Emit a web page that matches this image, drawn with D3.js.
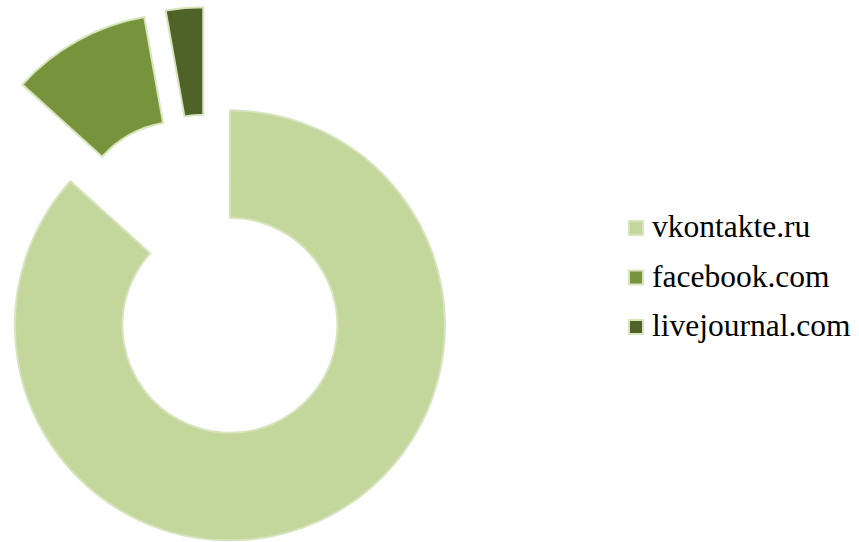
<!DOCTYPE html>
<html>
<head>
<meta charset="utf-8">
<script src="https://cdn.jsdelivr.net/npm/d3@7/dist/d3.min.js"></script>
<style>
  html, body { margin: 0; padding: 0; background: #ffffff; }
  svg { display: block; }
</style>
</head>
<body>
<svg id="chart" width="859" height="542"></svg>
<script>
const categories = ["vkontakte.ru", "facebook.com", "livejournal.com"];
const values = [86.7, 10.5, 2.8];
const colors = ["#c3d69b", "#77933c", "#4f6228"];

const svg = d3.select("#chart");
const cx = 208, cy = 276;
const outerR = 215, innerR = 107.5;
const explode = 54;

const pie = d3.pie().sort(null).value(d => d.value).startAngle(0).endAngle(2 * Math.PI);
const data = categories.map((c, i) => ({ name: c, value: values[i], color: colors[i] }));
const arcs = pie(data);
const arc = d3.arc().innerRadius(innerR).outerRadius(outerR);

const g = svg.append("g").attr("transform", `translate(${cx},${cy})`);
g.selectAll("path")
  .data(arcs)
  .join("path")
  .attr("d", arc)
  .attr("fill", d => d.data.color)
  .attr("stroke", "#d7e4bd")
  .attr("stroke-width", 2)
  .attr("stroke-linejoin", "miter")
  .attr("transform", d => {
    const mid = (d.startAngle + d.endAngle) / 2;
    return `translate(${explode * Math.sin(mid)},${-explode * Math.cos(mid)})`;
  });

const legend = svg.append("g").attr("transform", "translate(628,220)");
const rowH = 49.5;
const items = legend.selectAll("g")
  .data(data)
  .join("g")
  .attr("transform", (d, i) => `translate(0,${i * rowH})`);
items.append("rect")
  .attr("x", 1).attr("y", 1)
  .attr("width", 14).attr("height", 14)
  .attr("fill", d => d.color)
  .attr("stroke", "#d7e4bd")
  .attr("stroke-width", 2);
items.append("text")
  .attr("x", 24).attr("y", 17)
  .style("font-family", '"Liberation Serif"')
  .style("font-size", "31.5px")
  .style("fill", "#000")
  .text(d => d.name);
</script>
</body>
</html>
